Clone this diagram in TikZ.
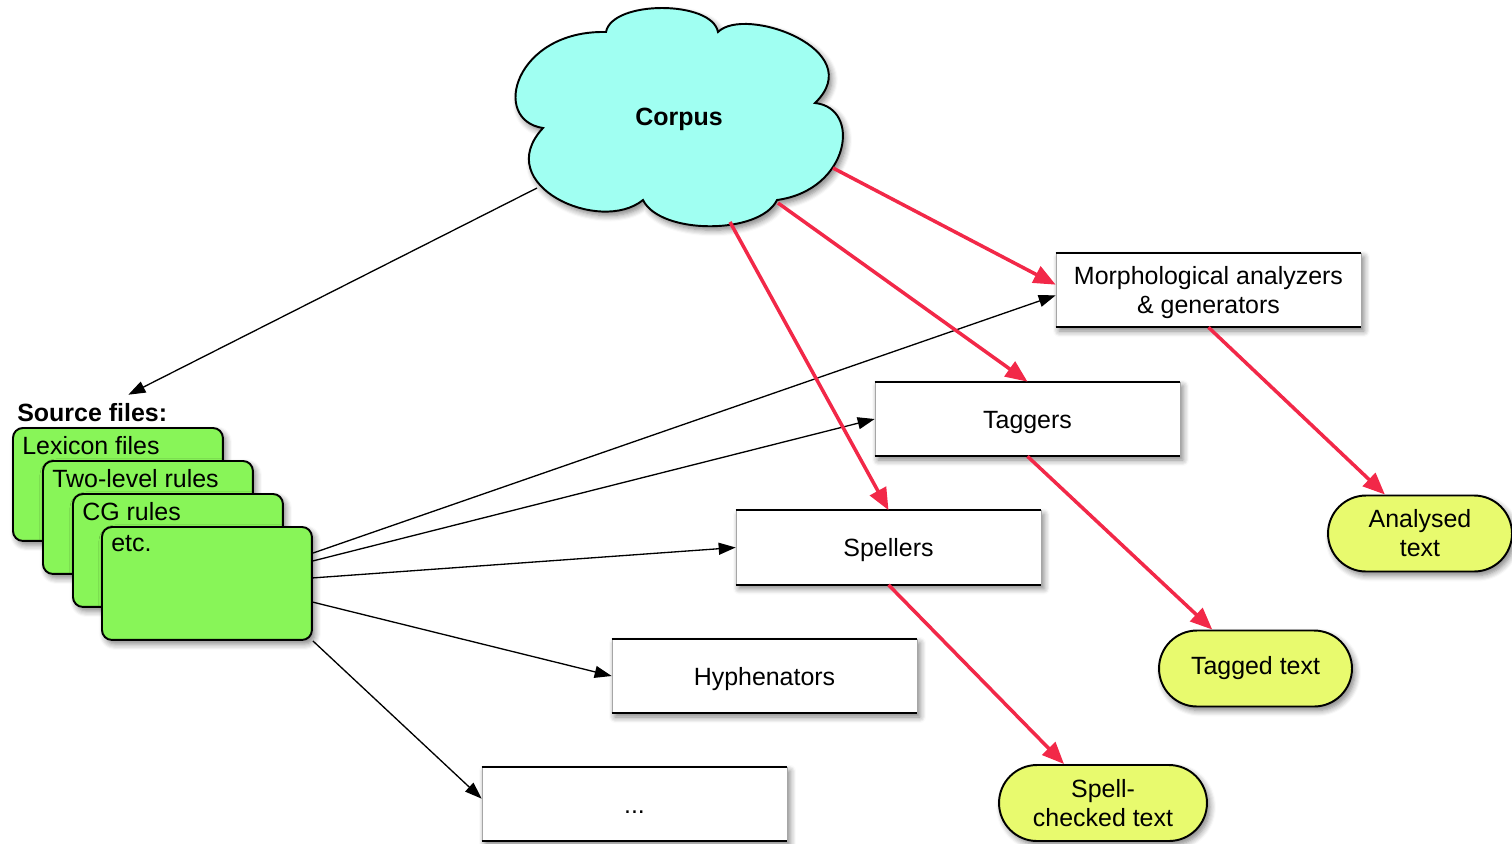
\documentclass[tikz,border=0pt]{standalone}
\usepackage{fontspec}
\setmainfont{Liberation Sans}
\usetikzlibrary{shapes.misc,shadows,shadows.blur,arrows.meta}
\definecolor{cloudc}{RGB}{160,255,242}
\definecolor{greenc}{RGB}{136,245,88}
\definecolor{yelc}{RGB}{232,250,110}
\definecolor{redc}{RGB}{242,40,72}
\begin{document}
\begin{tikzpicture}[x=0.02cm,y=-0.02cm,
  font=\fontsize{14.2}{16.5}\selectfont,
  shad/.style={blur shadow={shadow xshift=0.06cm,shadow yshift=-0.08cm,shadow blur radius=0.12cm,shadow blur steps=6,shadow opacity=50}},
  procbox/.style={rectangle,fill=white,draw=gray!70,line width=0.4pt,
    minimum width=6.1cm,minimum height=1.48cm,align=center,text depth=0pt,shad},
  oneline/.style={procbox,text height=10.3pt},
  topedge/.style={line width=1.1pt,black},
  srcbox/.style={rectangle,rounded corners=0.2cm,fill=greenc,draw=black,line width=1.1pt,
    minimum width=4.2cm,minimum height=2.26cm,anchor=north west,shad},
  srctext/.style={anchor=north west,inner sep=0pt,xshift=0.2cm,yshift=-0.19cm},
  resbox/.style={rounded rectangle,fill=yelc,draw=black,line width=1.1pt,
    align=center,minimum height=1.52cm,inner sep=0pt,shad},
  blkarrow/.style={-{Triangle[length=0.34cm,width=0.24cm]},line width=0.75pt,black},
  redarrow/.style={-{Triangle[length=0.44cm,width=0.36cm]},line width=2pt,redc}
]
\useasboundingbox (0,0) rectangle (1512,843);

% cloud
\draw[fill=cloudc,line width=1.1pt,shad]
  (606,32) .. controls (612,0) and (712,0) .. (718,32)
  .. controls (745,5) and (870,50) .. (815,103)
  .. controls (862,108) and (850,190) .. (777,200)
  .. controls (760,235) and (660,235) .. (643,200)
  .. controls (600,235) and (490,185) .. (543,128)
  .. controls (490,120) and (515,30) .. (606,32) -- cycle;
\node[font=\fontsize{14.2}{16.5}\selectfont\bfseries] (corpus) at (679,119) {Corpus};
\coordinate (c1) at (537,188);
\coordinate (c2) at (833,168);
\coordinate (c3) at (778,203);
\coordinate (c4) at (730,222);

% source files
\node[font=\fontsize{14.2}{16.5}\selectfont\bfseries,anchor=west,inner xsep=0pt,inner ysep=5pt] (srclab) at (17,413) {Source files:};
\node[srcbox,label={[srctext]north west:Lexicon files}] (lex) at (12,427) {};
\node[srcbox,label={[srctext]north west:Two-level rules}] (two) at (42,460) {};
\node[srcbox,label={[srctext]north west:CG rules}] (cg) at (72,493) {};
\node[srcbox,label={[srctext]north west:etc.}] (etcbox) at (101,526) {};

% process boxes
\node[procbox] (morph) at (1208.5,290) {Morphological analyzers\\\& generators};
\node[oneline] (tag) at (1027.5,419) {Taggers};
\node[oneline] (spell) at (888.5,547.5) {Spellers};
\node[oneline] (hyph) at (764.5,676) {Hyphenators};
\node[oneline] (dots) at (634.5,804) {...};
\foreach \n in {morph,tag,spell,hyph,dots}{
  \draw[topedge] (\n.north west) -- (\n.north east);
  \draw[topedge] (\n.south west) -- (\n.south east);
}

% results
\node[resbox,minimum width=3.68cm] (analysed) at (1420,533.5) {Analysed\\text};
\node[resbox,minimum width=3.86cm] (tagged) at (1255.5,668.5) {Tagged text};
\node[resbox,minimum width=4.16cm] (spellchk) at (1103,803) {Spell-\\checked text};

% black arrows
\draw[blkarrow] (c1) -- (srclab);
\draw[blkarrow] (etcbox.16) -- (morph.182);
\draw[blkarrow] (etcbox.12) -- (tag.west);
\draw[blkarrow] (etcbox.3) -- (spell.west);
\draw[blkarrow] (etcbox.-10) -- (hyph.west);
\draw[blkarrow] (etcbox.south east) -- (dots.178);

% red arrows
\draw[redarrow] (c2) -- (morph.178);
\draw[redarrow] (c3) -- (tag.north);
\draw[redarrow] (c4) -- (spell.north);
\draw[redarrow] (morph.south) -- (analysed.132);
\draw[redarrow] (tag.south) -- (tagged.138);
\draw[redarrow] (spell.south) -- (spellchk.135);
\end{tikzpicture}
\end{document}
